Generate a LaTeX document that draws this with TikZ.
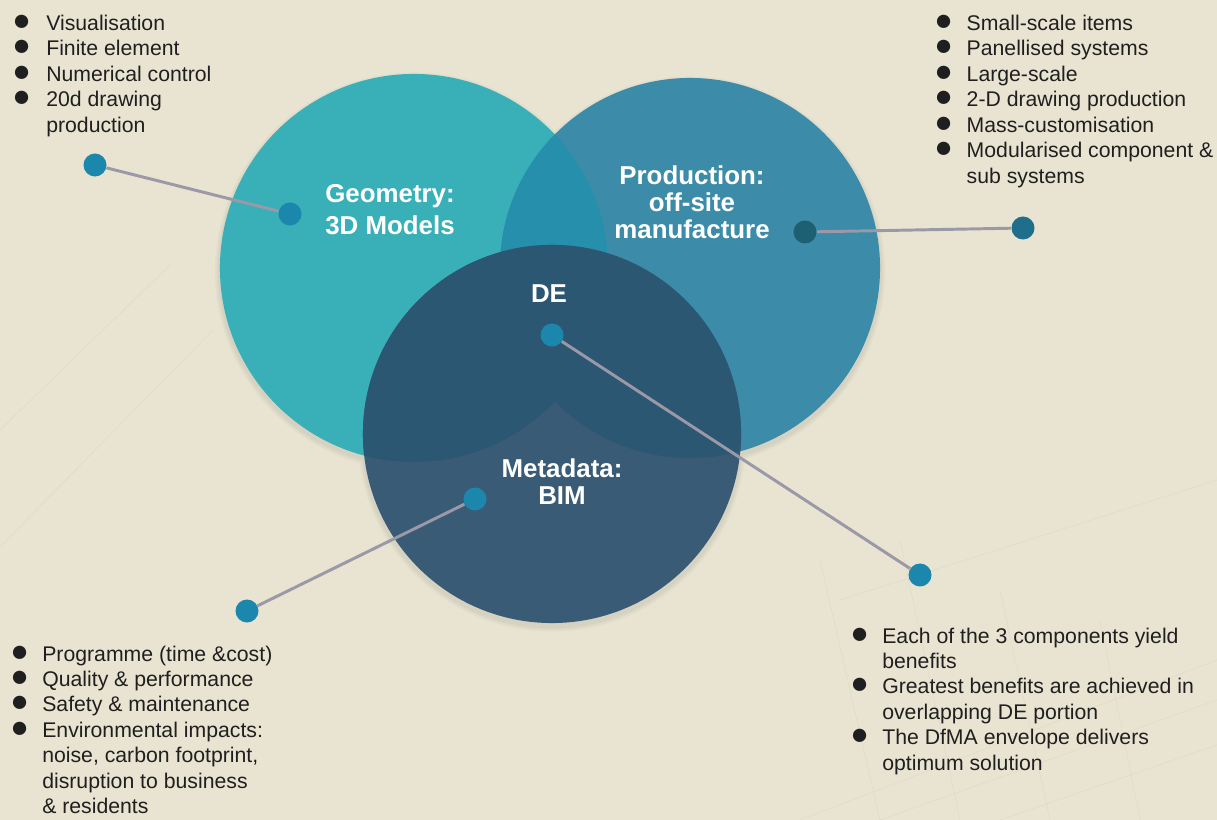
\documentclass[tikz,border=0pt]{standalone}
\usepackage{fontspec}
\setmainfont{Liberation Sans}
\usepackage{array}

\definecolor{paper}{HTML}{E8E4D1}
\definecolor{ink}{HTML}{1F1F1F}
\definecolor{geocol}{HTML}{39AFB8}
\definecolor{prodcol}{HTML}{3C8CA9}
\definecolor{bothcol}{HTML}{2690AC}
\definecolor{metalow}{HTML}{395B76}
\definecolor{metahigh}{HTML}{2B5772}
\definecolor{dotblue}{HTML}{1C87AD}
\definecolor{dotdark}{HTML}{1D5F73}
\definecolor{dotmid}{HTML}{1F6E8B}
\definecolor{wirecol}{HTML}{9B98A8}

\newcommand{\bul}{\smash{\scalebox{1.45}{●}}}

\begin{document}
\begin{tikzpicture}
  [x=0.025cm,y=-0.025cm,
   every node/.style={inner sep=0pt,text=ink},
   lbl/.style={anchor=base,text=white,font=\bfseries\fontsize{18.4}{19.2}\selectfont},
   lst/.style={anchor=base west,font=\fontsize{15.1}{18.1}\selectfont},
   pin/.style={circle,fill=dotblue,minimum size=0.575cm},
   wire/.style={draw=wirecol,line width=2.1pt},
   sketch/.style={draw=paper!90!black,line width=0.5pt,opacity=0.3}]

  % paper
  \fill[paper] (0,0) rectangle (1217,820);
  \useasboundingbox (0,0) rectangle (1217,820);

  % faint plan lines in the background
  \draw[sketch] (0,547) -- (213,330) (0,430) -- (170,265);
  \draw[sketch] (800,820) -- (1217,660) (880,820) -- (1217,700)
                (840,600) -- (1217,480) (1000,820) -- (1217,745);
  \draw[sketch] (820,560) -- (880,820) (900,540) -- (960,820)
                (1000,590) -- (1050,820) (1100,620) -- (1140,820);

  \coordinate (g) at (414,268);
  \coordinate (p) at (690,268);
  \coordinate (m) at (552,434);

  % soft shade under the circles
  \foreach \s in {1,2,3}
    \fill[black,opacity=0.025] ([yshift=-2.5]g) circle (4.85cm+\s*1.2pt)
                               ([yshift=-2.5]p) circle (4.75cm+\s*1.2pt)
                               ([yshift=-2.5]m) circle (4.725cm+\s*1.2pt);

  % the three sets
  \fill[geocol] (g) circle (4.85cm);
  \fill[prodcol] (p) circle (4.75cm);
  \begin{scope}
    \clip (g) circle (4.85cm);
    \fill[bothcol] (p) circle (4.75cm);
  \end{scope}
  \fill[metalow] (m) circle (4.725cm);
  \begin{scope}
    \clip (m) circle (4.725cm);
    \fill[metahigh] (g) circle (4.85cm) (p) circle (4.75cm);
  \end{scope}

  % set labels
  \node[lbl,font=\bfseries\fontsize{18.4}{22.4}\selectfont] (geo) at (390,203)
    {\begin{tabular}[t]{@{}c@{}}Geometry:\\3D Models\end{tabular}};
  \node[lbl] (prod) at (692,185)
    {\begin{tabular}[t]{@{}c@{}}Production:\\off-site\\manufacture\end{tabular}};
  \node[lbl] (de) at (549,303) {DE};
  \node[lbl] (meta) at (562,477)
    {\begin{tabular}[t]{@{}c@{}}Metadata:\\BIM\end{tabular}};

  % pins
  \node[pin] (gin) at (290,214) {};
  \node[pin] (gout) at (95,165) {};
  \node[pin,fill=dotdark] (pin) at (805,232) {};
  \node[pin,fill=dotmid] (pout) at (1023,228) {};
  \node[pin] (dein) at (552,335) {};
  \node[pin] (deout) at (920,575) {};
  \node[pin] (min) at (475,499) {};
  \node[pin] (mout) at (247,611) {};

  \foreach \from/\to in {gin/gout,pin/pout,dein/deout,min/mout}
    \draw[wire] (\from) -- (\to);

  % bullet lists
  \node[lst] (geolist) at (12,30.5)
    {\begin{tabular}[t]{@{}p{0.85cm}@{}l@{}}
      \bul & Visualisation\\
      \bul & Finite element\\
      \bul & Numerical control\\
      \bul & 20d drawing\\
           & production
    \end{tabular}};
  \node[lst] (prodlist) at (934,30.5)
    {\begin{tabular}[t]{@{}p{0.81cm}@{}l@{}}
      \bul & Small-scale items\\
      \bul & Panellised systems\\
      \bul & Large-scale\\
      \bul & 2-D drawing production\\
      \bul & Mass-customisation\\
      \bul & Modularised component \&\\
           & sub systems
    \end{tabular}};
  \node[lst] (metalist) at (10,661)
    {\begin{tabular}[t]{@{}p{0.8cm}@{}l@{}}
      \bul & Programme (time \&cost)\\
      \bul & Quality \& performance\\
      \bul & Safety \& maintenance\\
      \bul & Environmental impacts:\\
           & noise, carbon footprint,\\
           & disruption to business\\
           & \& residents
    \end{tabular}};
  \node[lst] (delist) at (850,643)
    {\begin{tabular}[t]{@{}p{0.8cm}@{}l@{}}
      \bul & Each of the 3 components yield\\
           & benefits\\
      \bul & Greatest benefits are achieved in\\
           & overlapping DE portion\\
      \bul & The DfMA envelope delivers\\
           & optimum solution
    \end{tabular}};
\end{tikzpicture}
\end{document}
